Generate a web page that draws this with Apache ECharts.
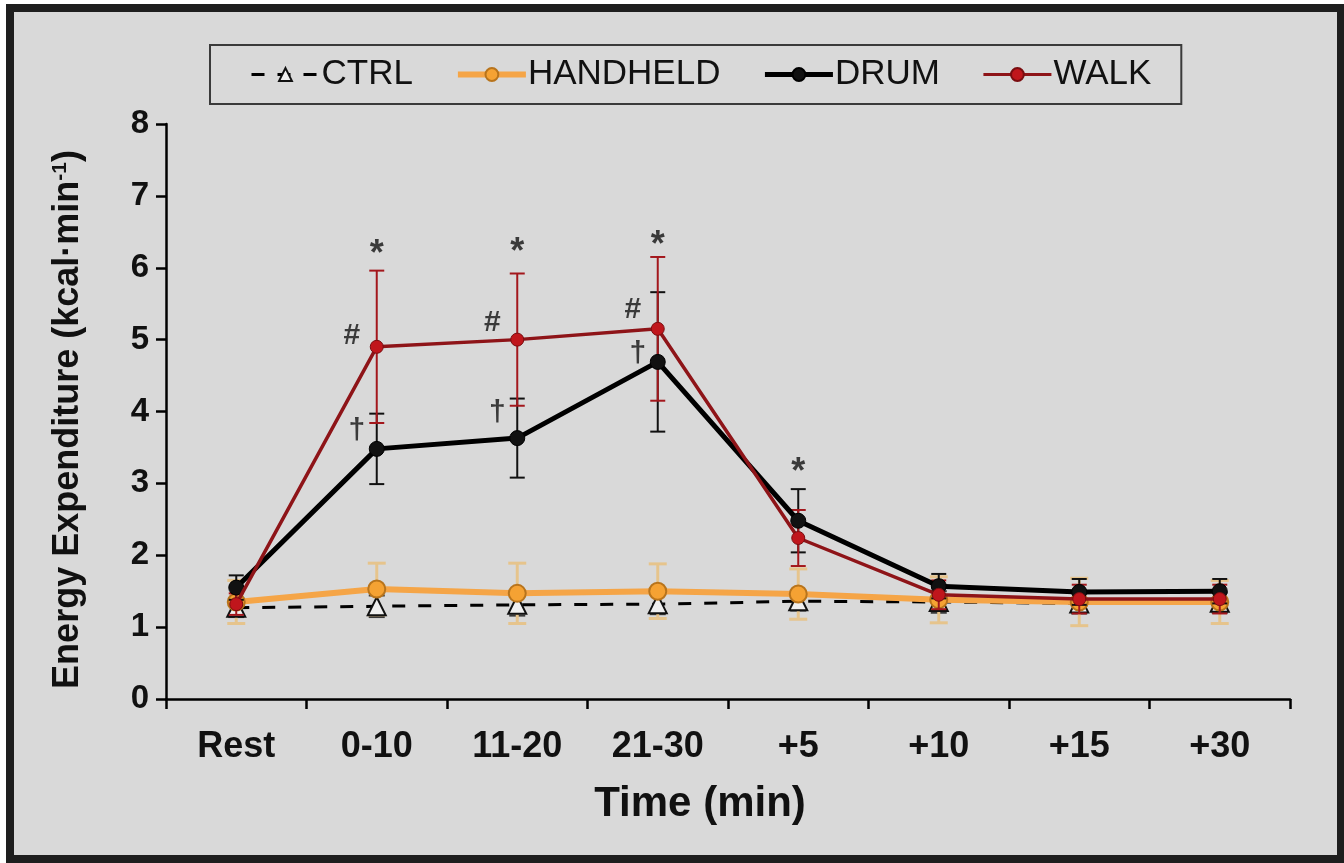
<!DOCTYPE html>
<html>
<head>
<meta charset="utf-8">
<script src="https://cdn.jsdelivr.net/npm/echarts/dist/echarts.min.js"></script>
<style>
html,body{margin:0;padding:0;background:#fff;}
#chart{width:1344px;height:863px;}
</style>
</head>
<body>
<div id="chart"></div>
<script>
// ---- data ----
var categories = ['Rest', '0-10', '11-20', '21-30', '+5', '+10', '+15', '+30'];
var yTicks = [0, 1, 2, 3, 4, 5, 6, 7, 8];
var seriesNames = ['CTRL', 'HANDHELD', 'DRUM', 'WALK'];

var ctrl       = [1.27, 1.29, 1.31, 1.32, 1.36, 1.35, 1.33, 1.34];
var ctrlSD     = [0.13, 0.15, 0.15, 0.14, 0.13, 0.15, 0.14, 0.14];
var handheld   = [1.35, 1.53, 1.47, 1.50, 1.46, 1.38, 1.35, 1.35];
var handheldSD = [0.30, 0.36, 0.42, 0.38, 0.35, 0.32, 0.33, 0.30];
var drum       = [1.55, 3.48, 3.63, 4.69, 2.48, 1.57, 1.49, 1.50];
var drumSD     = [0.17, 0.49, 0.55, 0.97, 0.44, 0.17, 0.18, 0.17];
var walk       = [1.32, 4.90, 5.00, 5.15, 2.24, 1.45, 1.39, 1.39];
var walkSD     = [0.15, 1.06, 0.92, 1.00, 0.39, 0.20, 0.20, 0.20];

// significance marks: [category index, value, symbol]
var stars   = [[1, 6.30, '*'], [2, 6.33, '*'], [3, 6.43, '*'], [4, 3.27, '*']];
var hashes  = [[1, 5.05, '#'], [2, 5.23, '#'], [3, 5.41, '#']];
var daggers = [[1, 3.73, '\u2020'], [2, 3.98, '\u2020'], [3, 4.81, '\u2020']];

// ---- chart ----
var chart = echarts.init(document.getElementById('chart'), null, {renderer: 'canvas'});
var FONT = 'Liberation Sans, Arial, sans-serif';

function errSeries(name, vals, sds, color, width, capW, z) {
  return {
    type: 'custom', name: name, silent: true, z: z,
    data: vals.map(function (v, i) { return [i, v, sds[i]]; }),
    encode: {x: 0, y: 1},
    renderItem: function (params, api) {
      var i = api.value(0), v = api.value(1), s = api.value(2);
      var top = api.coord([i, v + s]);
      var bot = api.coord([i, v - s]);
      var hw = capW / 2;
      var st = {stroke: color, lineWidth: width};
      return {type: 'group', children: [
        {type: 'line', shape: {x1: top[0], y1: top[1], x2: bot[0], y2: bot[1]}, style: st},
        {type: 'line', shape: {x1: top[0] - hw, y1: top[1], x2: top[0] + hw, y2: top[1]}, style: st},
        {type: 'line', shape: {x1: bot[0] - hw, y1: bot[1], x2: bot[0] + hw, y2: bot[1]}, style: st}
      ]};
    }
  };
}

function markSeries(name, data, fontSize, offset) {
  return {
    type: 'scatter', name: name, silent: true, z: 10,
    symbolSize: 0,
    data: data.map(function (d) { return [d[0], d[1], d[2]]; }),
    label: {
      show: true, position: 'inside', offset: offset,
      formatter: function (p) { return p.value[2]; },
      color: '#111', fontFamily: FONT, fontWeight: 'bold', fontSize: fontSize
    }
  };
}

var legendWidths = [3, 6, 5, 3];

var option = {
  backgroundColor: '#ffffff',
  animation: false,
  graphic: [{
    type: 'rect', z: -100, silent: true,
    shape: {x: 10, y: 8, width: 1331, height: 851},
    style: {fill: '#d9d9d9', stroke: '#1e1e1e', lineWidth: 8}
  }],
  legend: {
    data: seriesNames.map(function (n, i) { return {name: n, lineStyle: {width: legendWidths[i]}}; }),
    left: 210, top: 45,
    padding: [12, 30, 12, 40],
    itemGap: 42, itemWidth: 68, itemHeight: 16,
    borderColor: '#3a3a3a', borderWidth: 2,
    backgroundColor: '#d9d9d9',
    textStyle: {fontFamily: FONT, fontSize: 35, color: '#111', lineHeight: 34, padding: [0, 0, 0, -3]}
  },
  grid: {left: 166, right: 54, top: 124, bottom: 164, containLabel: false},
  xAxis: {
    type: 'category', data: categories, boundaryGap: true,
    name: 'Time (min)', nameLocation: 'middle', nameGap: 84,
    nameTextStyle: {fontFamily: FONT, fontWeight: 'bold', fontSize: 42, color: '#111', padding: [0, 56, 0, 0]},
    axisLine: {lineStyle: {color: '#000', width: 2.5}},
    axisTick: {show: true, length: 10, lineStyle: {color: '#000', width: 2.5}, alignWithLabel: false},
    axisLabel: {fontFamily: FONT, fontWeight: 'bold', fontSize: 36, color: '#111', margin: 30, interval: 0},
    splitLine: {show: false}
  },
  yAxis: {
    type: 'value', min: yTicks[0], max: yTicks[yTicks.length - 1], interval: 1,
    name: 'Energy Expenditure (kcal\u00b7min{sup|-1})', nameLocation: 'middle', nameGap: 80, nameRotate: 90,
    nameTextStyle: {fontFamily: FONT, fontWeight: 'bold', fontSize: 36, color: '#111', padding: [0, 16, 0, 0],
      rich: {sup: {fontFamily: FONT, fontWeight: 'bold', fontSize: 21, color: '#111', verticalAlign: 'top', padding: [0, 0, 15, 0]}}},
    axisLine: {show: true, lineStyle: {color: '#000', width: 2.5}},
    axisTick: {show: true, length: 10, lineStyle: {color: '#000', width: 2.5}},
    axisLabel: {fontFamily: FONT, fontWeight: 'bold', fontSize: 33, color: '#111', margin: 17,
      formatter: function (v) { return yTicks.indexOf(v) >= 0 ? String(v) : ''; }},
    splitLine: {show: false}
  },
  series: [
    errSeries('ctrlErr', ctrl, ctrlSD, '#3a3a3a', 2, 16, 1),
    errSeries('handheldErr', handheld, handheldSD, '#e6c48c', 3, 18, 1),
    {
      type: 'line', name: 'CTRL', data: ctrl, z: 2,
      symbol: 'triangle', symbolSize: [18, 18], showSymbol: true,
      lineStyle: {color: '#000', width: 3, type: [13, 13]},
      itemStyle: {color: '#efefef', borderColor: '#111', borderWidth: 2}
    },
    {
      type: 'line', name: 'HANDHELD', data: handheld, z: 3,
      symbol: 'circle', symbolSize: 17,
      lineStyle: {color: '#f5a547', width: 6},
      itemStyle: {color: '#f5a233', borderColor: '#b8741c', borderWidth: 2}
    },
    errSeries('drumErr', drum, drumSD, '#111', 2, 15, 4),
    errSeries('walkErr', walk, walkSD, '#a3171c', 2, 15, 4),
    {
      type: 'line', name: 'DRUM', data: drum, z: 5,
      symbol: 'circle', symbolSize: 15,
      lineStyle: {color: '#000', width: 5},
      itemStyle: {color: '#111', borderColor: '#000', borderWidth: 1}
    },
    {
      type: 'line', name: 'WALK', data: walk, z: 6,
      symbol: 'circle', symbolSize: 13,
      lineStyle: {color: '#8e1418', width: 3.5},
      itemStyle: {color: '#c0161c', borderColor: '#7a0d10', borderWidth: 1}
    },
    markSeries('stars', stars, 36, [0, 9]),
    markSeries('hashes', hashes, 30, [-25, 0]),
    markSeries('daggers', daggers, 30, [-20, 0])
  ]
};
chart.setOption(option);
</script>
</body>
</html>
